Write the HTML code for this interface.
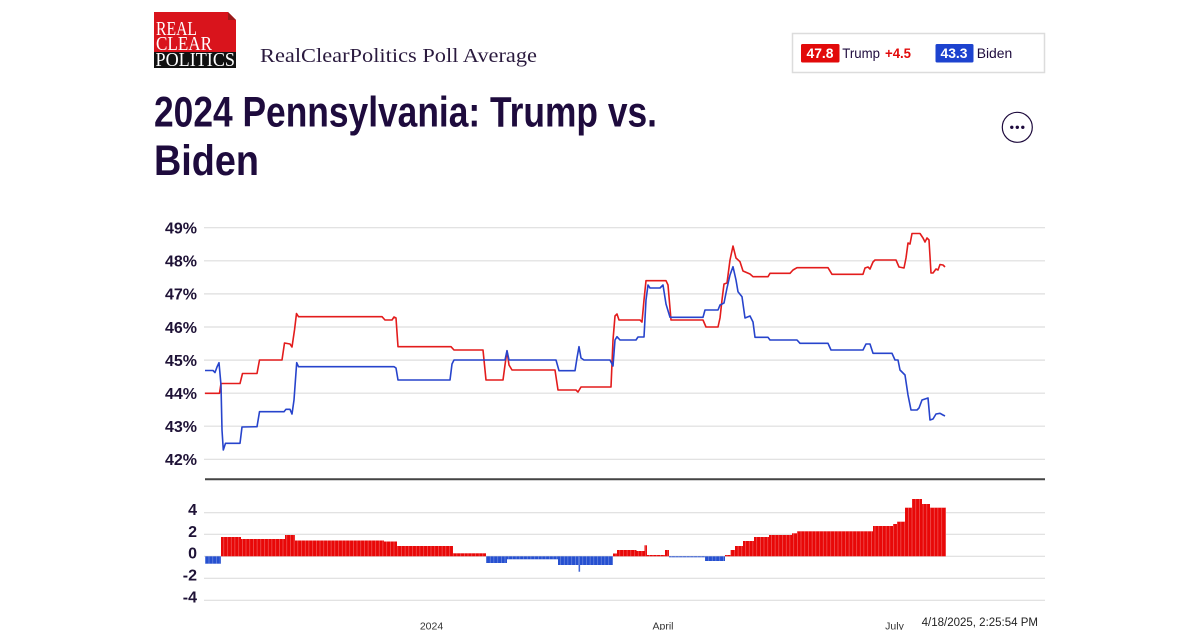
<!DOCTYPE html>
<html><head><meta charset="utf-8"><style>
html,body{margin:0;padding:0;background:#fff;}
svg{display:block;}
</style></head><body>
<svg width="1200" height="630" viewBox="0 0 1200 630" xmlns="http://www.w3.org/2000/svg">
<defs>
<pattern id="sep" patternUnits="userSpaceOnUse" x="205" y="0" width="3.7" height="630">
<rect x="0" y="0" width="0.6" height="630" fill="#fff" fill-opacity="0.4"/>
</pattern>
<g id="redbars">
<rect x="221" y="537" width="20" height="19.3"/>
<rect x="241" y="539" width="44" height="17.3"/>
<rect x="285" y="535" width="10" height="21.3"/>
<rect x="295" y="540.5" width="89" height="15.8"/>
<rect x="384" y="541.5" width="13" height="14.8"/>
<rect x="397" y="546" width="56" height="10.3"/>
<rect x="453" y="553.3" width="33" height="3"/>
<rect x="613" y="553.5" width="4" height="2.8"/>
<rect x="617" y="550" width="19.5" height="6.3"/>
<rect x="636.5" y="551" width="8" height="5.3"/>
<rect x="644.5" y="545.3" width="2.5" height="11"/>
<rect x="647" y="555" width="18" height="1.3"/>
<rect x="665" y="550" width="4" height="6.3"/>
<rect x="725" y="555" width="5.5" height="1.3"/>
<rect x="730.5" y="550" width="4.5" height="6.3"/>
<rect x="735" y="546" width="8" height="10.3"/>
<rect x="743" y="541" width="11" height="15.3"/>
<rect x="754" y="537" width="15" height="19.3"/>
<rect x="769" y="535" width="23" height="21.3"/>
<rect x="792" y="533.3" width="5" height="23"/>
<rect x="797" y="531.3" width="76" height="25"/>
<rect x="873" y="526" width="20" height="30.3"/>
<rect x="893" y="524" width="4" height="32.3"/>
<rect x="897" y="521.7" width="8" height="34.6"/>
<rect x="905" y="507.7" width="7" height="48.6"/>
<rect x="912" y="499" width="10" height="57.3"/>
<rect x="922" y="504" width="8" height="52.3"/>
<rect x="930" y="507.7" width="16" height="48.6"/>
</g>
<g id="bluebars">
<rect x="205" y="556.3" width="16" height="7.4"/>
<rect x="486" y="556.3" width="21" height="6.7"/>
<rect x="507" y="556.3" width="51" height="3"/>
<rect x="558" y="556.3" width="55" height="8.7"/>
<rect x="578.5" y="556.3" width="1.6" height="15.4"/>
<rect x="669" y="556.3" width="36" height="1"/>
<rect x="705" y="556.3" width="20" height="4.7"/>
</g>
</defs>
<!-- Logo -->
<polygon points="154,12 228,12 236,20 236,52 154,52" fill="#d9141c"/>
<polygon points="228,12 236,20 228,20" fill="#9a1a1a"/>
<rect x="154" y="52" width="82" height="16" fill="#111"/>
<g font-family="'Liberation Serif',serif" fill="#fff" font-size="19.5">
<text x="156" y="35" textLength="41" lengthAdjust="spacingAndGlyphs">REAL</text>
<text x="156" y="50" textLength="56" lengthAdjust="spacingAndGlyphs">CLEAR</text>
<text x="155.5" y="66" textLength="79.5" lengthAdjust="spacingAndGlyphs">POLITICS</text>
</g>
<text x="260" y="62" font-family="'Liberation Serif',serif" font-size="19.5" fill="#2a1a3e" textLength="277" lengthAdjust="spacingAndGlyphs">RealClearPolitics Poll Average</text>

<!-- Legend -->
<rect x="792.5" y="33.5" width="252" height="39" fill="#fff" stroke="#dcdcdc" stroke-width="1.5"/>
<rect x="801" y="44" width="38.5" height="18.5" rx="1.5" fill="#e20a0a"/>
<rect x="935.5" y="44" width="38" height="18.5" rx="1.5" fill="#1d43cf"/>
<g font-family="'Liberation Sans',sans-serif" font-size="14">
<text x="806.5" y="58" fill="#fff" font-weight="bold" textLength="27" lengthAdjust="spacingAndGlyphs">47.8</text>
<text x="842.3" y="58" fill="#1e0b3d" textLength="37.7" lengthAdjust="spacingAndGlyphs">Trump</text>
<text x="885" y="58" fill="#e20a0a" font-weight="bold" textLength="26" lengthAdjust="spacingAndGlyphs">+4.5</text>
<text x="940.5" y="58" fill="#fff" font-weight="bold" textLength="27" lengthAdjust="spacingAndGlyphs">43.3</text>
<text x="976.7" y="58" fill="#1e0b3d" textLength="35.6" lengthAdjust="spacingAndGlyphs">Biden</text>
</g>

<!-- Title -->
<g font-family="'Liberation Sans',sans-serif" font-weight="bold" font-size="43" fill="#1e0b3d">
<text x="154" y="126.7" textLength="503" lengthAdjust="spacingAndGlyphs">2024 Pennsylvania: Trump vs.</text>
<text x="154" y="175" textLength="105" lengthAdjust="spacingAndGlyphs">Biden</text>
</g>

<!-- More button -->
<circle cx="1017.3" cy="127.3" r="15" fill="#fff" stroke="#1e0b3d" stroke-width="1.2"/>
<circle cx="1011.8" cy="127.3" r="1.7" fill="#1e0b3d"/>
<circle cx="1017.3" cy="127.3" r="1.7" fill="#1e0b3d"/>
<circle cx="1022.8" cy="127.3" r="1.7" fill="#1e0b3d"/>

<!-- Top grid -->
<g stroke="#dedede" stroke-width="1.2">
<line x1="204" y1="227.7" x2="1045" y2="227.7"/>
<line x1="204" y1="260.8" x2="1045" y2="260.8"/>
<line x1="204" y1="293.9" x2="1045" y2="293.9"/>
<line x1="204" y1="327" x2="1045" y2="327"/>
<line x1="204" y1="360.1" x2="1045" y2="360.1"/>
<line x1="204" y1="393.2" x2="1045" y2="393.2"/>
<line x1="204" y1="426.2" x2="1045" y2="426.2"/>
<line x1="204" y1="459.3" x2="1045" y2="459.3"/>
</g>
<g font-family="'Liberation Sans',sans-serif" font-weight="bold" font-size="16" fill="#1e1236" text-anchor="end">
<text x="197" y="233.5">49%</text>
<text x="197" y="266.6">48%</text>
<text x="197" y="299.7">47%</text>
<text x="197" y="332.8">46%</text>
<text x="197" y="365.9">45%</text>
<text x="197" y="399">44%</text>
<text x="197" y="432">43%</text>
<text x="197" y="465.1">42%</text>
</g>

<!-- Lines -->
<polyline fill="none" stroke="#e31c1c" stroke-width="1.6" stroke-linejoin="round" points="205,393.3 219.5,393.3 221,383.5 240,383.5 242.5,373.5 257,373.5 259.5,360 282,360 284.5,343 290,344 292,347 294.5,330 296.5,313.5 298.5,316.7 382,316.7 385,320 392,320 394,317 396,318 398,346.7 451,346.7 454,350 483,350 486,380 503,380 505,365 507,351 509,365 512,370 555,370 558,390 576,390 578,392 581,387 611,387 613,340 615,316 617,314 619,320 640,320 642,322 644,300 646,280.7 666,280.7 668,285 671,320 703,320 706,327 718,327 720,318 722,300 724,284 727,283 730,260 733,246 736,258 740,261.7 743,271 750,274 753,276.7 768,276.7 770,273.3 790,273.3 793,270 797,267.7 828,267.7 832,274.3 863,274.3 865,268 868,267 870,269 873,262 875,260 896,260 899,267 904,268 906,258 908,243 910,244 912,233.5 920,233.5 923,238 925,242 927,238 929,240 931,273 933,273 936,269 938,270 940,264.5 943,265 945,267"/>
<polyline fill="none" stroke="#2744cc" stroke-width="1.6" stroke-linejoin="round" points="205,370.5 213,370.5 215,372.5 217,367 219,362.7 221,385 222,430 223.3,450 225.5,443.3 240,443.3 242,427 257,426.7 259.5,411.7 284,411.7 286,409.3 290,409.3 292,414 294,400 296.7,362.7 298.5,366.7 394,366.7 396,368 398,380 450,380 452,364 454,360 505,360 507,350.7 509,360 556,360 559,370.7 575,370.7 577,358 579,346.7 581,358 584,360 610,360 613,366 615,340 617,336.7 620,340 636,340 638,337 644,337 646,300 648,285 650,288 660,288 663,285 666,304 670,317.3 703,317.3 705,310 718,310 720,305 724,303 727,288 730,275 733,266.7 736,280 738,291.7 742,296.7 745,318 750,316 753,322 755,337.3 768,337.3 770,340 797,340 800,343.3 828,343.3 831,350 863,350 866,344 870,344 873,353.3 892,353.3 895,360 898,360 900,370 903,373 905,375 908,395 911,410 917,410 919,408 922,400 928,398 930,420 933,419 936,414 940,413.3 943,415 945,416"/>

<!-- Divider -->
<line x1="205" y1="479.3" x2="1045" y2="479.3" stroke="#444" stroke-width="2"/>

<!-- Bottom grid -->
<g stroke="#dedede" stroke-width="1.2">
<line x1="204" y1="512.7" x2="1045" y2="512.7"/>
<line x1="204" y1="534.3" x2="1045" y2="534.3"/>
<line x1="204" y1="556.3" x2="1045" y2="556.3"/>
<line x1="204" y1="578.3" x2="1045" y2="578.3"/>
<line x1="204" y1="600.3" x2="1045" y2="600.3"/>
</g>
<g font-family="'Liberation Sans',sans-serif" font-weight="bold" font-size="16" fill="#1e1236" text-anchor="end">
<text x="197" y="515">4</text>
<text x="197" y="537">2</text>
<text x="197" y="558.5">0</text>
<text x="197" y="580.5">-2</text>
<text x="197" y="602.5">-4</text>
</g>

<!-- Bars -->
<use href="#redbars" fill="#e80808"/>
<use href="#bluebars" fill="#2650d0"/>
<use href="#redbars" fill="url(#sep)"/>
<use href="#bluebars" fill="url(#sep)"/>

<!-- X labels -->
<g font-family="'Liberation Sans',sans-serif" font-size="10.5" fill="#333" text-anchor="middle">
<text x="431.5" y="629.5">2024</text>
<text x="663" y="629.5">April</text>
<text x="894.5" y="629.5">July</text>
</g>
<text x="1038" y="626" font-family="'Liberation Sans',sans-serif" font-size="11.5" fill="#222" text-anchor="end">4/18/2025, 2:25:54 PM</text>
</svg>
</body></html>
